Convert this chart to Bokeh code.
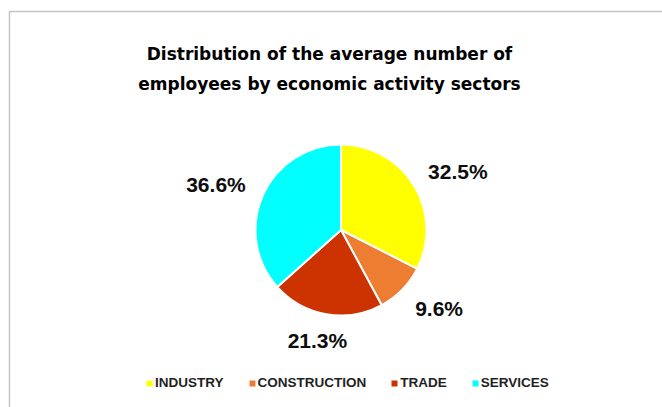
import numpy as np
from bokeh.plotting import figure
from bokeh.models import ColumnDataSource, Range1d, Label, Legend, LegendItem, BoxAnnotation
from bokeh.core.properties import value
from bokeh.embed import file_html
from bokeh.resources import INLINE

# ---- data ----
sectors = ["INDUSTRY", "CONSTRUCTION", "TRADE", "SERVICES"]
shares = [32.5, 9.6, 21.3, 36.6]
colors = ["#FFFF00", "#ED7D31", "#CC3300", "#00FFFF"]
title_lines = ["Distribution of the average number of",
               "employees by economic activity sectors"]

# ---- layout (pixel-like data space) ----
W, H = 662, 407
def px(x):
    return x
def py(y):
    return H - y

CX, CY, R = px(340.5), py(229.5), 85.5
LRX, LRY = 137, 112

frac = np.array(shares) / np.sum(shares)
cum_end = np.cumsum(frac)
cum_start = cum_end - frac
start_angle = np.pi / 2 - 2 * np.pi * cum_end
end_angle = np.pi / 2 - 2 * np.pi * cum_start
mid = 2 * np.pi * (cum_start + frac / 2)

src = ColumnDataSource(dict(
    sector=sectors, share=shares, color=colors,
    start=start_angle, end=end_angle,
    lx=CX + LRX * np.sin(mid), ly=CY + LRY * np.cos(mid),
    label=[f"{v:.1f}%" for v in shares],
))

p = figure(width=W, height=H, output_backend="svg", toolbar_location=None,
           x_range=Range1d(0, W), y_range=Range1d(0, H),
           x_axis_location=None, y_axis_location=None, min_border=0,
           outline_line_color=None)
p.grid.visible = False
p.background_fill_color = "white"
p.border_fill_color = "white"

r = p.wedge(x=CX, y=CY, radius=R, start_angle="start", end_angle="end",
            direction="anticlock", fill_color="color", line_color="white",
            line_width=2, source=src)

p.text(x="lx", y="ly", text="label", source=src, text_align="center",
       text_baseline="middle", text_font=value("Liberation Sans"),
       text_font_style="bold", text_font_size="21px", text_color="#0d0d0d")

for i, line in enumerate(title_lines):
    p.add_layout(Label(x=px(329), y=py(53 + 30 * i), text=line,
                       text_align="center", text_baseline="alphabetic",
                       text_font="DejaVu Sans", text_font_style="bold",
                       text_font_size="17px", text_color="#000000"))

p.add_layout(BoxAnnotation(left=px(9), top=py(11), right=W + 50, bottom=-50,
                           fill_alpha=0, line_color="#3a3a3a", line_width=1.5))

items = [LegendItem(label=s, renderers=[r], index=i) for i, s in enumerate(sectors)]
legend = Legend(items=items, orientation="horizontal",
                location=(px(144), H - 390),
                glyph_width=10, glyph_height=10, label_standoff=1, spacing=23,
                padding=0, margin=0, border_line_color=None,
                background_fill_alpha=0, label_height=10,
                label_text_font="Liberation Sans", label_text_font_style="bold",
                label_text_font_size="13.5px", label_text_color="#1f1f1f")
p.add_layout(legend)

open("out.html", "w").write(file_html(p, INLINE))
